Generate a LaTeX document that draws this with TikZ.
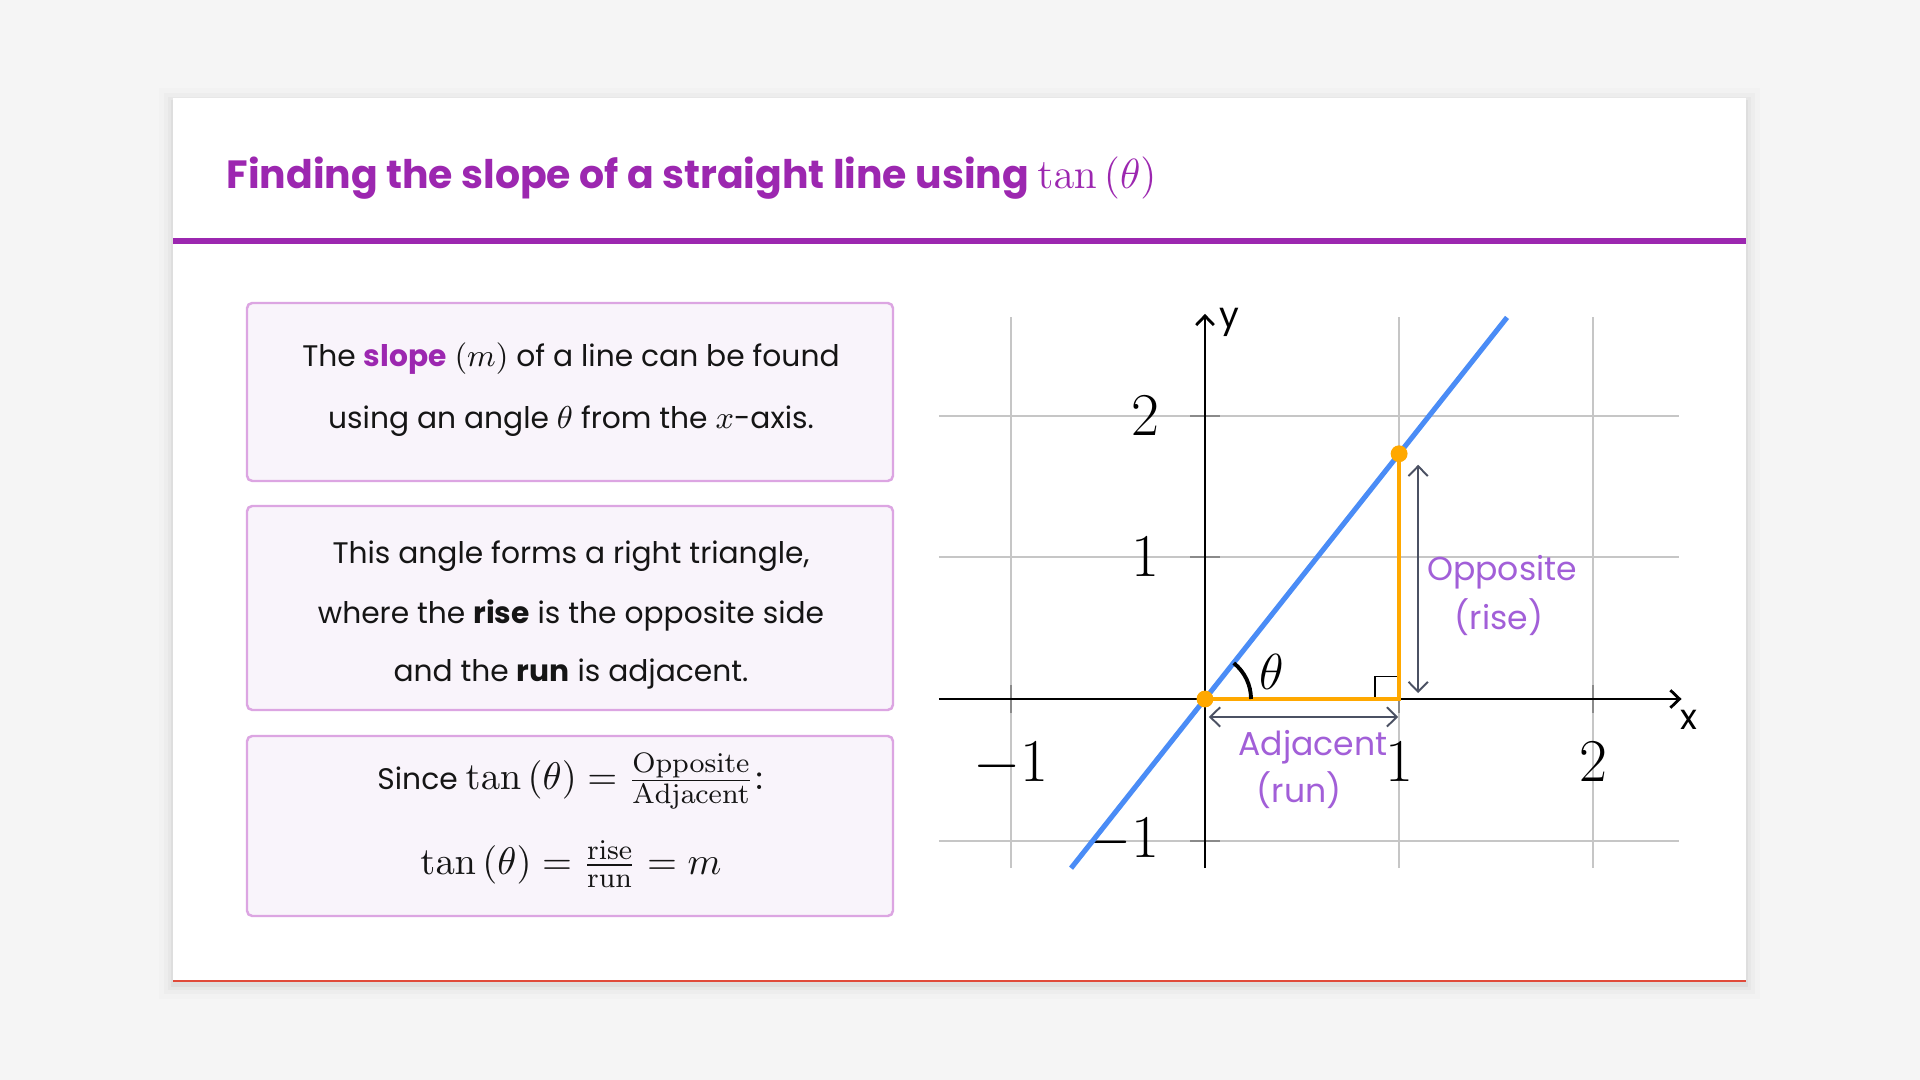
\documentclass[tikz,border=0pt]{standalone}
\usepackage[no-math]{fontspec}
\setmainfont{Poppins}
\usetikzlibrary{arrows.meta}

\definecolor{pagebg}{HTML}{F5F5F5}
\definecolor{titlepurple}{HTML}{9C27B0}
\definecolor{boxfill}{HTML}{F9F4FB}
\definecolor{boxline}{HTML}{DCA5E2}
\definecolor{gridgray}{HTML}{C6C6C6}
\definecolor{tickgray}{HTML}{8A8A8A}
\definecolor{lineblue}{HTML}{4A8CF6}
\definecolor{triorange}{HTML}{FFA800}
\definecolor{dimgray}{HTML}{4B5163}
\definecolor{labelpurple}{HTML}{A25FD8}
\definecolor{inkblack}{HTML}{151515}
\definecolor{cardred}{HTML}{E04A3A}

\newcommand\bigmath{\fontsize{11}{13}\selectfont}
\newcommand\titlemath{\fontsize{12.3}{14}\selectfont}
\newcommand\inlinemath{\fontsize{9.2}{11}\selectfont}

\begin{document}
\begin{tikzpicture}[x=0.01cm, y=-0.01cm,
    infobox/.style={draw=boxline, line width=0.7pt, fill=boxfill, rounded corners=1.5pt},
    bodytext/.style={anchor=base, inner sep=0pt, text=inkblack, font=\fontsize{8.45}{10}\selectfont},
    ticklabel/.style={inner sep=0pt, font=\fontsize{19}{19}\selectfont},
    sidelabel/.style={anchor=base, inner sep=0pt, text=labelpurple, font=\fontsize{9.4}{11}\selectfont},
    dimarrow/.style={dimgray, line width=0.55pt, {Straight Barb[length=2.8pt,width=5.5pt]}-{Straight Barb[length=2.8pt,width=5.5pt]}},
    gridline/.style={gridgray, line width=0.6pt}]
    % page and card
    \useasboundingbox (0,0) rectangle (1920,1080);
    \fill[pagebg] (0,0) rectangle (1920,1080);
    \foreach \s/\o in {2/0.035, 5/0.025, 9/0.018, 14/0.012}
        \fill[black, opacity=\o] (173-\s,98-\s+4) rectangle (1746+\s,981+\s+4);
    \fill[white] (173,98) rectangle (1746,981);
    \draw[cardred, line width=0.45pt] (173,981) -- (1746,981);

    % title and rule
    \node[anchor=base west, inner sep=0pt, text=titlepurple, font=\fontsize{11.2}{13}\selectfont\bfseries] (title) at (226,189)
        {Finding the slope of a straight line using {\titlemath$\tan\left(\theta\right)$}};
    \fill[titlepurple] (173,238.5) rectangle (1746,244);

    % text boxes
    \draw[infobox] (247,303) rectangle (893,481);
    \draw[infobox] (247,506) rectangle (893,710);
    \draw[infobox] (247,736) rectangle (893,916);

    \node[bodytext] (ta) at (571,366.6) {The \textbf{\color{titlepurple}slope} {\inlinemath$(m)$} of a line can be found};
    \node[bodytext] (tb) at (571,429) {using an angle {\inlinemath$\theta$} from the {\inlinemath$x$}-axis.};
    \node[bodytext] (tc) at (571,564) {This angle forms a right triangle,};
    \node[bodytext] (td) at (571,624) {where the \textbf{rise} is the opposite side};
    \node[bodytext] (te) at (571,682) {and the \textbf{run} is adjacent.};
    \node[bodytext] (since) at (571,790)
        {Since {\bigmath$\tan\left(\theta\right) = \frac{\mathrm{Opposite}}{\mathrm{Adjacent}}\mathpunct{:}$}};
    \node[bodytext] (slope) at (571,874.7)
        {\bigmath$\tan\left(\theta\right) = \frac{\mathrm{rise}}{\mathrm{run}} = m$};

    % graph, one unit per grid square
    \begin{scope}[shift={(1205,699)}, x=1.94cm, y=1.415cm]
        % grid
        \foreach \gx in {-1,1,2}
            \draw[gridline] (\gx,-1.195) -- (\gx,2.7);
        \foreach \gy in {-1,1,2}
            \draw[gridline] (-1.371,\gy) -- (2.441,\gy);
        % ticks
        \foreach \gx in {-1,1,2}
            \draw[tickgray, line width=0.6pt] (\gx,-0.1) -- (\gx,0.1);
        \foreach \gy in {-1,1,2}
            \draw[tickgray, line width=0.6pt] (-0.077,\gy) -- (0.077,\gy);

        % x, y axes
        \draw[line width=0.8pt, -{Straight Barb[length=2.6pt,width=5pt]}] (-1.371,0) -- (2.455,0);
        \draw[line width=0.8pt, -{Straight Barb[length=2.6pt,width=5pt]}] (0,-1.195) -- (0,2.72);
        \node[inner sep=0pt, font=\fontsize{10}{12}\selectfont] (xlab) at (2.495,-0.148) {x};
        \node[inner sep=0pt, font=\fontsize{10}{12}\selectfont] (ylab) at (0.127,2.66) {y};

        % tick labels
        \node[ticklabel, anchor=north] (xm1) at (-1,-0.30) {$-1$};
        \node[ticklabel, anchor=north] (xp1) at (1,-0.30) {$1$};
        \node[ticklabel, anchor=north] (xp2) at (2,-0.30) {$2$};
        \node[ticklabel, anchor=east] (yp2) at (-0.232,2) {$2$};
        \node[ticklabel, anchor=east] (yp1) at (-0.232,1) {$1$};
        \node[ticklabel, anchor=east] (ym1) at (-0.232,-1) {$-1$};

        % the line y = sqrt(3) x
        \draw[lineblue, line width=1.45pt] (-0.69,-1.195) -- (1.556,2.695);

        % right triangle
        \coordinate (A) at (0,0);
        \coordinate (B) at (1,0);
        \coordinate (C) at (1,1.732);
        \draw[line width=0.4pt] (0.876,0) |- (1,0.157);
        \draw[triorange, line width=1.15pt] (A) -- (B) -- (C);
        \fill[triorange] (A) circle (2.4pt);
        \fill[triorange] (C) circle (2.4pt);

        % angle theta
        \draw[line width=1.1pt] (A) ++(0:0.46cm) arc[start angle=0, end angle=51.3, radius=0.46cm];
        \node[inner sep=0pt, font=\fontsize{14}{16}\selectfont] (theta) at (0.344,0.193) {$\theta$};

        % rise and run
        \coordinate (riseb) at (1.098,0.042);
        \coordinate (riset) at (1.098,1.654);
        \coordinate (runl) at (0.02,-0.127);
        \coordinate (runr) at (0.995,-0.127);
        \draw[dimarrow] (riseb) -- (riset);
        \draw[dimarrow] (runl) -- (runr);
        \node[sidelabel] (opp) at (1.531,0.834) {Opposite};
        \node[sidelabel] (rise) at (1.515,0.488) {(rise)};
        \node[sidelabel] (adj) at (0.557,-0.396) {Adjacent};
        \node[sidelabel] (run) at (0.485,-0.728) {(run)};
    \end{scope}
\end{tikzpicture}
\end{document}
